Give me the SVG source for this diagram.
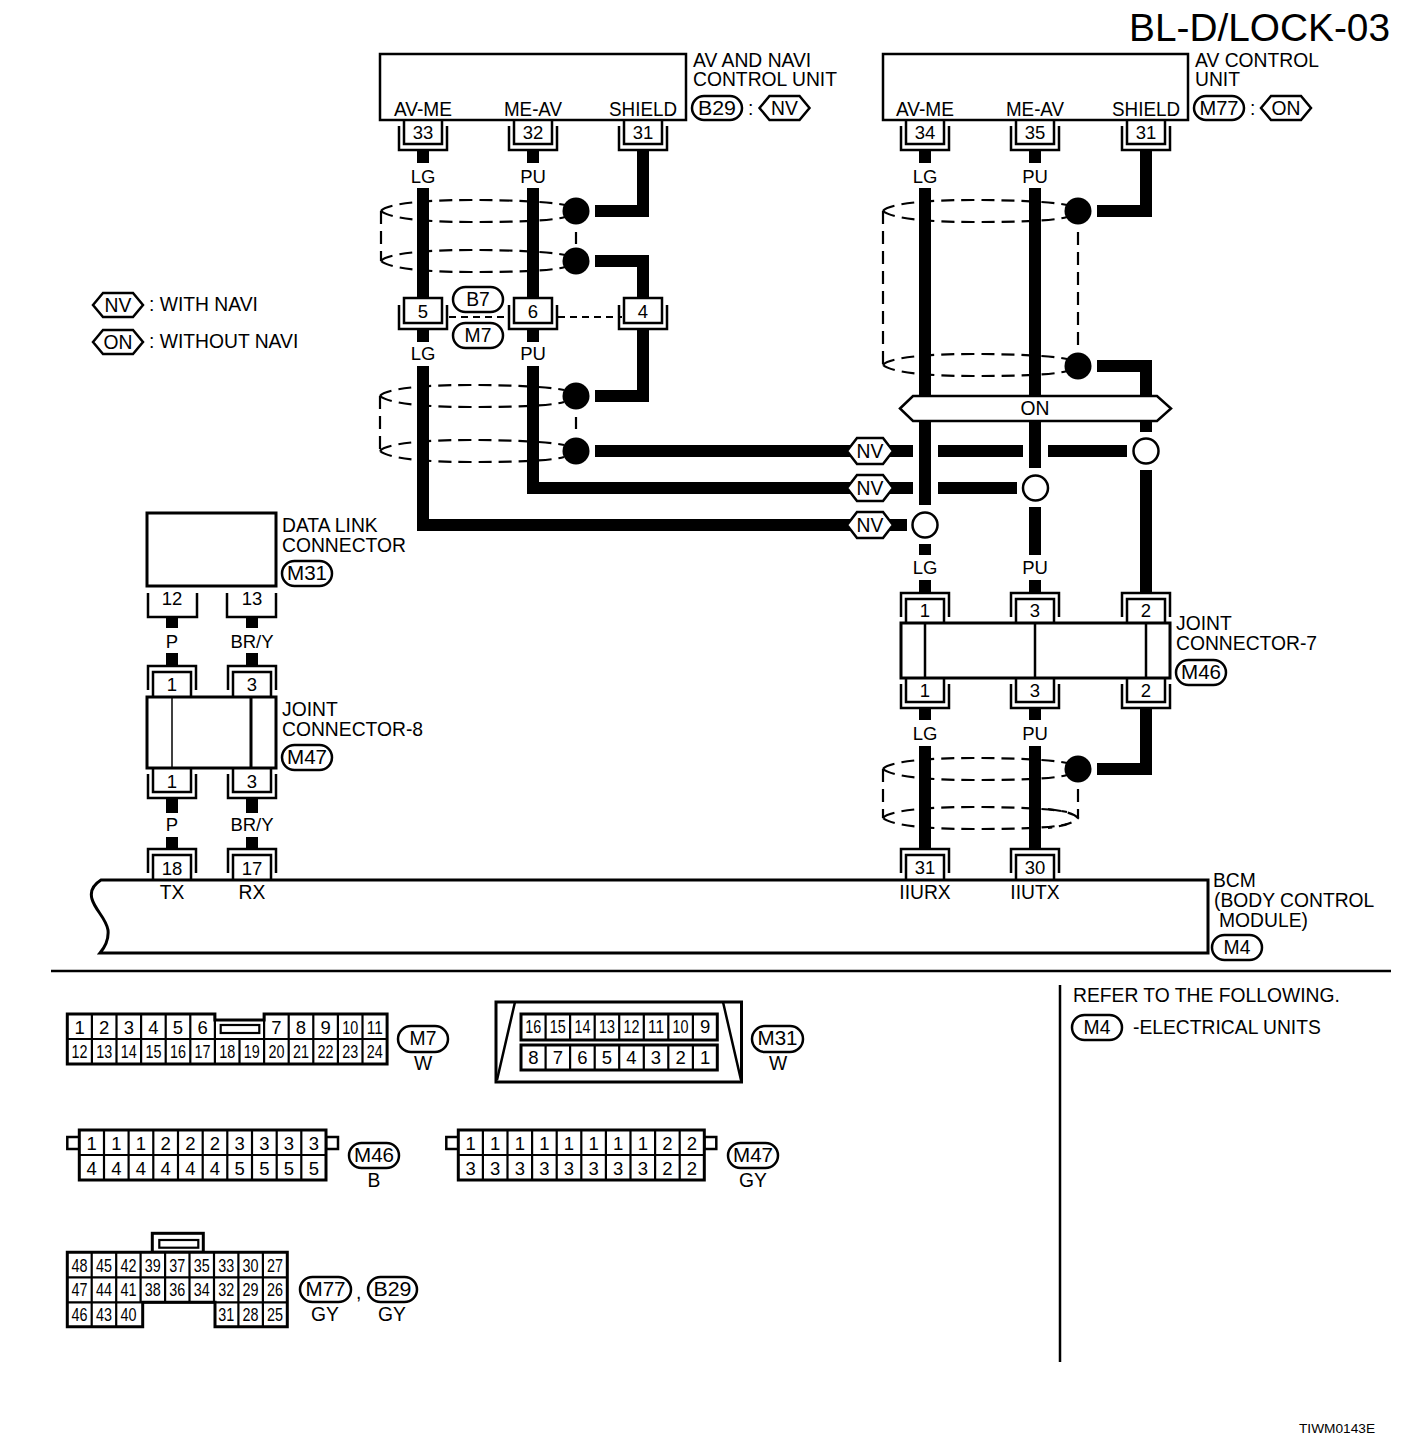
<svg xmlns="http://www.w3.org/2000/svg" width="1408" height="1452" viewBox="0 0 1408 1452">
<style>
text{font-family:"Liberation Sans",Arial,sans-serif;font-size:19.300px;fill:#000}
.c{text-anchor:middle}
.n text{text-anchor:middle;font-size:18.500px}
.b{fill:#fff;stroke:#000;stroke-width:2.5}
.o{fill:none;stroke:#000;stroke-width:2.5}
.w{fill:none;stroke:#000;stroke-width:12;stroke-linejoin:miter}
.d{fill:none;stroke:#000;stroke-width:2.2;stroke-dasharray:13 7}
.e{fill:none;stroke:#000;stroke-width:2.2;stroke-dasharray:7 5}
.g{fill:none;stroke:#000;stroke-width:2.2}
.f{fill:#fff;stroke:#000;stroke-width:3}
.p{fill:#fff;stroke:#000;stroke-width:2.5}
.h{fill:#fff;stroke:#000;stroke-width:2.5}
.t{font-size:13.700px}
.big{font-size:38.800px;text-anchor:end}
</style>
<defs>
<g id="pd"><path class="b" d="M-19,0V24H19V0"/><path class="o" d="M-24,6V30H24V6"/></g>
<g id="pu"><path class="b" d="M-19,0V-24H19V0"/><path class="o" d="M-24,-6V-30H24V-6"/></g>
<g id="pi"><rect class="b" x="-19" y="0" width="38" height="25"/><path class="o" d="M-24,7V31H24V7"/></g>
<path id="oval" class="d" d="M0,0C5,-7 40,-11 90,-11C135,-11 170,-9 184,-6M0,0C8,7 40,11 90,11C135,11 170,10 184,6"/>
<path id="hex" class="h" d="M-25,0L-15,-12H15L25,0L15,12H-15Z"/>
<path id="hexw" class="h" d="M-23,0L-13,-13H13L23,0L13,13H-13Z"/>
<circle id="blk" r="13.500" fill="#000"/>
<circle id="opn" r="12.500" fill="#fff" stroke="#000" stroke-width="2.5"/>
</defs>

<rect width="1408" height="1452" fill="#fff"/>
<text id="title" class="big" x="1390" y="41">BL-D/LOCK-03</text>

<g id="shields">
<use href="#oval" x="381" y="211"/><use href="#oval" x="381" y="261"/>
<path class="d" d="M381,211V261M576,232V244"/>
<use href="#oval" x="380" y="396"/><use href="#oval" x="380" y="451"/>
<path class="d" d="M380,396V451M576,417V429"/>
<use href="#oval" x="883" y="211"/><use href="#oval" x="883" y="365"/>
<path class="d" d="M883,211V365M1078,232V345"/>
<use href="#oval" x="883" y="769"/><use href="#oval" x="883" y="818"/>
<path class="d" d="M883,769V818M1078,789V818"/>
<path class="d" d="M1048,809C1065,811 1075,814 1078,818C1075,822 1065,826 1048,828"/>
<path class="e" d="M449,317H505M558,317H622"/>
</g>

<g id="connectors">
<path class="w" d="M423,150V163M423,188V298M423,329V342M423,366V525H907"/>
<path class="w" d="M533,150V163M533,188V298M533,329V342M533,366V488H913M938,488H1017"/>
<path class="w" d="M643,150V211H595M595,261H643V298M643,329V396H595"/>
<path class="w" d="M595,451H913M938,451H1023M1048,451H1127"/>
<path class="w" d="M925,150V163M925,188V505M925,544V555"/>
<path class="w" d="M1035,150V163M1035,188V468M1035,507V555"/>
<path class="w" d="M1146,150V211H1097M1097,366H1146V432M1146,470V593"/>
<path class="w" d="M925,580V593M1035,580V593"/>
<path class="w" d="M925,708V720M925,746V849M1035,708V720M1035,746V849"/>
<path class="w" d="M1146,708V769H1097"/>
<path class="w" d="M172,617V628M172,653V665M172,799V813M172,837V849"/>
<path class="w" d="M252,617V628M252,653V665M252,799V813M252,837V849"/>
</g>

<g id="splices">
<use href="#blk" x="576" y="211"/><use href="#blk" x="576" y="261"/>
<use href="#blk" x="576" y="396"/><use href="#blk" x="576" y="451"/>
<use href="#blk" x="1078" y="211"/><use href="#blk" x="1078" y="366"/>
<use href="#blk" x="1078" y="769"/>
<use href="#opn" x="925" y="525"/><use href="#opn" x="1035.500" y="488"/><use href="#opn" x="1146" y="451"/>
<use href="#hexw" x="870" y="451"/><use href="#hexw" x="870" y="488"/><use href="#hexw" x="870" y="525"/>
<text class="c" x="870" y="458">NV</text><text class="c" x="870" y="495">NV</text><text class="c" x="870" y="532">NV</text>
</g>

<g id="wire-labels" class="n">
<text x="423" y="183">LG</text><text x="533" y="183">PU</text>
<text x="423" y="360">LG</text><text x="533" y="360">PU</text>
<text x="925" y="183">LG</text><text x="1035" y="183">PU</text>
<text x="925" y="574">LG</text><text x="1035" y="574">PU</text>
<text x="925" y="740">LG</text><text x="1035" y="740">PU</text>
<text x="172" y="648">P</text><text x="252" y="648">BR/Y</text>
<text x="172" y="831">P</text><text x="252" y="831">BR/Y</text>
</g>

<g id="av-navi-unit">
<use href="#pd" x="423" y="120"/><use href="#pd" x="533" y="120"/><use href="#pd" x="643" y="120"/>
<rect class="o" x="380" y="54" width="306" height="66" fill="#fff"/>
<text class="c" x="423" y="116" textLength="58" lengthAdjust="spacingAndGlyphs">AV-ME</text><text class="c" x="533" y="116" textLength="58" lengthAdjust="spacingAndGlyphs">ME-AV</text><text class="c" x="643" y="116" textLength="68" lengthAdjust="spacingAndGlyphs">SHIELD</text>
<g class="n"><text x="423" y="139">33</text><text x="533" y="139">32</text><text x="643" y="139">31</text></g>
<text x="693" y="67">AV AND NAVI</text><text x="693" y="86" textLength="144" lengthAdjust="spacingAndGlyphs">CONTROL UNIT</text>
<rect class="p" x="692" y="96" width="50" height="24" rx="12"/><text class="c" x="717" y="115" textLength="38" lengthAdjust="spacingAndGlyphs">B29</text>
<text x="748" y="115">:</text>
<use href="#hex" x="784.500" y="108"/><text class="c" x="784.500" y="115">NV</text>
</g>

<g id="av-control-unit">
<use href="#pd" x="925" y="120"/><use href="#pd" x="1035" y="120"/><use href="#pd" x="1146" y="120"/>
<rect class="o" x="883" y="54" width="305" height="66" fill="#fff"/>
<text class="c" x="925" y="116" textLength="58" lengthAdjust="spacingAndGlyphs">AV-ME</text><text class="c" x="1035" y="116" textLength="58" lengthAdjust="spacingAndGlyphs">ME-AV</text><text class="c" x="1146" y="116" textLength="68" lengthAdjust="spacingAndGlyphs">SHIELD</text>
<g class="n"><text x="925" y="139">34</text><text x="1035" y="139">35</text><text x="1146" y="139">31</text></g>
<text x="1195" y="67">AV CONTROL</text><text x="1195" y="86">UNIT</text>
<rect class="p" x="1194" y="96" width="50" height="24" rx="12"/><text class="c" x="1219" y="115" textLength="39" lengthAdjust="spacingAndGlyphs">M77</text>
<text x="1250" y="115">:</text>
<use href="#hex" x="1286" y="108"/><text class="c" x="1286" y="115">ON</text>
</g>

<g id="inline-b7-m7">
<use href="#pi" x="423" y="298"/><use href="#pi" x="533" y="298"/><use href="#pi" x="643" y="298"/>
<g class="n"><text x="423" y="318">5</text><text x="533" y="318">6</text><text x="643" y="318">4</text></g>
<rect class="p" x="453" y="287" width="50" height="25" rx="12.500"/><text class="c" x="478" y="306">B7</text>
<rect class="p" x="453" y="323" width="50" height="25" rx="12.500"/><text class="c" x="478" y="342">M7</text>
</g>

<g id="legend">
<use href="#hex" x="118" y="305"/><text class="c" x="118" y="312">NV</text><text x="149" y="311">: WITH NAVI</text>
<use href="#hex" x="118" y="342"/><text class="c" x="118" y="349">ON</text><text x="149" y="348">: WITHOUT NAVI</text>
</g>

<g id="on-bar">
<path class="h" d="M900,408.500L913,396H1157L1171,408.500L1157,421H913Z"/><text class="c" x="1035" y="415">ON</text>
</g>

<g id="joint-connector-7">
<use href="#pu" x="925" y="623"/><use href="#pu" x="1035" y="623"/><use href="#pu" x="1146" y="623"/>
<use href="#pd" x="925" y="678"/><use href="#pd" x="1035" y="678"/><use href="#pd" x="1146" y="678"/>
<rect class="f" x="901" y="623" width="269" height="55"/>
<path class="o" d="M925,623V678M1035,623V678M1146,623V678"/>
<g class="n"><text x="925" y="617">1</text><text x="1035" y="617">3</text><text x="1146" y="617">2</text>
<text x="925" y="697">1</text><text x="1035" y="697">3</text><text x="1146" y="697">2</text></g>
<text x="1176" y="630">JOINT</text><text x="1176" y="650">CONNECTOR-7</text>
<rect class="p" x="1176" y="660" width="50" height="25" rx="12.500"/><text class="c" x="1201" y="679" textLength="40" lengthAdjust="spacingAndGlyphs">M46</text>
</g>

<g id="data-link-connector">
<path class="o" d="M148,593V617H197V593M227,593V617H276V593"/>
<rect class="f" x="147" y="513" width="129" height="73"/>
<g class="n"><text x="172" y="605">12</text><text x="252" y="605">13</text></g>
<text x="282" y="532">DATA LINK</text><text x="282" y="552">CONNECTOR</text>
<rect class="p" x="282" y="561" width="50" height="25" rx="12.500"/><text class="c" x="307" y="580" textLength="40" lengthAdjust="spacingAndGlyphs">M31</text>
</g>

<g id="joint-connector-8">
<use href="#pu" x="172" y="696"/><use href="#pu" x="252" y="696"/>
<use href="#pd" x="172" y="768"/><use href="#pd" x="252" y="768"/>
<rect class="f" x="147" y="697" width="129" height="71"/>
<path d="M172,697V768" stroke="#000" stroke-width="1.500"/><path d="M251,697V768" stroke="#000" stroke-width="3"/>
<g class="n"><text x="172" y="691">1</text><text x="252" y="691">3</text><text x="172" y="788">1</text><text x="252" y="788">3</text></g>
<text x="282" y="716">JOINT</text><text x="282" y="736">CONNECTOR-8</text>
<rect class="p" x="282" y="745" width="50" height="25" rx="12.500"/><text class="c" x="307" y="764" textLength="40" lengthAdjust="spacingAndGlyphs">M47</text>
</g>

<g id="bcm">
<use href="#pu" x="172" y="879"/><use href="#pu" x="252" y="879"/><use href="#pu" x="925" y="879"/><use href="#pu" x="1035" y="879"/>
<path class="f" d="M1208,880H101C93,885 90,892 92,899C95,910 106,918 108,930C109,940 105,947 100,953H1208Z"/>
<g class="n"><text x="172" y="875">18</text><text x="252" y="875">17</text><text x="925" y="874">31</text><text x="1035" y="874">30</text></g>
<text class="c" x="172" y="899">TX</text><text class="c" x="252" y="899">RX</text>
<text class="c" x="925" y="899">IIURX</text><text class="c" x="1035" y="899">IIUTX</text>
<text x="1213" y="887">BCM</text><text x="1214" y="907">(BODY CONTROL</text><text x="1219" y="927">MODULE)</text>
<rect class="p" x="1212" y="935" width="50" height="25" rx="12.500"/><text class="c" x="1237" y="954">M4</text>
</g>

<g id="dividers">
<path d="M51,971H1391" stroke="#000" stroke-width="2.500"/>
<path d="M1060,985V1362" stroke="#000" stroke-width="2.500"/>
</g>

<g id="refer">
<text x="1073" y="1002">REFER TO THE FOLLOWING.</text>
<rect class="p" x="1072" y="1015" width="50" height="25" rx="12.500"/><text class="c" x="1097" y="1034">M4</text>
<text x="1133" y="1034">-ELECTRICAL UNITS</text>
</g>

<g id="conn-m7">
<path class="f" d="M67.300,1014H214.900V1020H264.100V1014H387.100V1064H67.300Z"/>
<path class="g" d="M67.300,1039H387.100M91.900,1014V1064M116.500,1014V1064M141.100,1014V1064M165.700,1014V1064M190.300,1014V1064M214.900,1014V1064M239.500,1039V1064M264.100,1014V1064M288.700,1014V1064M313.300,1014V1064M337.900,1014V1064M362.500,1014V1064"/>
<rect class="g" x="220.700" y="1025" width="38.600" height="8"/>
<g class="n"><text x="79.600" y="1034">1</text><text x="104.200" y="1034">2</text><text x="128.800" y="1034">3</text><text x="153.400" y="1034">4</text><text x="178" y="1034">5</text><text x="202.600" y="1034">6</text><text x="276.400" y="1034">7</text><text x="301" y="1034">8</text><text x="325.600" y="1034">9</text><text x="350.200" y="1034" textLength="16" lengthAdjust="spacingAndGlyphs">10</text><text x="374.800" y="1034" textLength="16" lengthAdjust="spacingAndGlyphs">11</text>
<text x="79.600" y="1058" textLength="16" lengthAdjust="spacingAndGlyphs">12</text><text x="104.200" y="1058" textLength="16" lengthAdjust="spacingAndGlyphs">13</text><text x="128.800" y="1058" textLength="16" lengthAdjust="spacingAndGlyphs">14</text><text x="153.400" y="1058" textLength="16" lengthAdjust="spacingAndGlyphs">15</text><text x="178" y="1058" textLength="16" lengthAdjust="spacingAndGlyphs">16</text><text x="202.600" y="1058" textLength="16" lengthAdjust="spacingAndGlyphs">17</text><text x="227.200" y="1058" textLength="16" lengthAdjust="spacingAndGlyphs">18</text><text x="251.800" y="1058" textLength="16" lengthAdjust="spacingAndGlyphs">19</text><text x="276.400" y="1058" textLength="16" lengthAdjust="spacingAndGlyphs">20</text><text x="301" y="1058" textLength="16" lengthAdjust="spacingAndGlyphs">21</text><text x="325.600" y="1058" textLength="16" lengthAdjust="spacingAndGlyphs">22</text><text x="350.200" y="1058" textLength="16" lengthAdjust="spacingAndGlyphs">23</text><text x="374.800" y="1058" textLength="16" lengthAdjust="spacingAndGlyphs">24</text></g>
<rect class="p" x="398" y="1026" width="50" height="26" rx="13"/><text class="c" x="423" y="1045">M7</text>
<text class="c" x="423" y="1070">W</text>
</g>

<g id="conn-m31">
<rect class="f" x="496" y="1002" width="245.500" height="80"/>
<path class="o" d="M515,1002L497,1080M723,1002L741,1080"/>
<rect class="f" x="521" y="1014" width="196.300" height="26"/>
<rect class="f" x="521" y="1045" width="196.300" height="25"/>
<path class="g" d="M545.600,1014V1040M570.100,1014V1040M594.700,1014V1040M619.200,1014V1040M643.800,1014V1040M668.300,1014V1040M692.900,1014V1040M545.600,1045V1070M570.100,1045V1070M594.700,1045V1070M619.200,1045V1070M643.800,1045V1070M668.300,1045V1070M692.900,1045V1070"/>
<g class="n"><text x="533.300" y="1033" textLength="16" lengthAdjust="spacingAndGlyphs">16</text><text x="557.800" y="1033" textLength="16" lengthAdjust="spacingAndGlyphs">15</text><text x="582.400" y="1033" textLength="16" lengthAdjust="spacingAndGlyphs">14</text><text x="606.900" y="1033" textLength="16" lengthAdjust="spacingAndGlyphs">13</text><text x="631.500" y="1033" textLength="16" lengthAdjust="spacingAndGlyphs">12</text><text x="656" y="1033" textLength="16" lengthAdjust="spacingAndGlyphs">11</text><text x="680.600" y="1033" textLength="16" lengthAdjust="spacingAndGlyphs">10</text><text x="705.100" y="1033">9</text>
<text x="533.300" y="1064">8</text><text x="557.800" y="1064">7</text><text x="582.400" y="1064">6</text><text x="606.900" y="1064">5</text><text x="631.500" y="1064">4</text><text x="656" y="1064">3</text><text x="680.600" y="1064">2</text><text x="705.100" y="1064">1</text></g>
<rect class="p" x="752" y="1026" width="51" height="26" rx="13"/><text class="c" x="777.500" y="1045" textLength="40" lengthAdjust="spacingAndGlyphs">M31</text>
<text class="c" x="778" y="1070">W</text>
</g>

<g id="conn-m46">
<rect class="b" x="67.300" y="1137" width="12" height="12"/><rect class="b" x="326" y="1137" width="12" height="12"/>
<rect class="f" x="79.300" y="1130" width="246.700" height="50"/>
<path class="g" d="M79.300,1155H326M104,1130V1180M128.600,1130V1180M153.300,1130V1180M178,1130V1180M202.700,1130V1180M227.300,1130V1180M252,1130V1180M276.700,1130V1180M301.300,1130V1180"/>
<g class="n"><text x="91.600" y="1150">1</text><text x="116.300" y="1150">1</text><text x="141" y="1150">1</text><text x="165.700" y="1150">2</text><text x="190.400" y="1150">2</text><text x="215" y="1150">2</text><text x="239.700" y="1150">3</text><text x="264.400" y="1150">3</text><text x="289" y="1150">3</text><text x="313.800" y="1150">3</text>
<text x="91.600" y="1175">4</text><text x="116.300" y="1175">4</text><text x="141" y="1175">4</text><text x="165.700" y="1175">4</text><text x="190.400" y="1175">4</text><text x="215" y="1175">4</text><text x="239.700" y="1175">5</text><text x="264.400" y="1175">5</text><text x="289" y="1175">5</text><text x="313.800" y="1175">5</text></g>
<rect class="p" x="349" y="1143" width="50" height="25" rx="12.500"/><text class="c" x="374" y="1162" textLength="40" lengthAdjust="spacingAndGlyphs">M46</text>
<text class="c" x="374" y="1187">B</text>
</g>

<g id="conn-m47">
<rect class="b" x="446.300" y="1137" width="12" height="12"/><rect class="b" x="704.300" y="1137" width="12" height="12"/>
<rect class="f" x="458.300" y="1130" width="246" height="50"/>
<path class="g" d="M458.300,1155H704.300M482.900,1130V1180M507.500,1130V1180M532.100,1130V1180M556.700,1130V1180M581.300,1130V1180M605.900,1130V1180M630.500,1130V1180M655.100,1130V1180M679.700,1130V1180"/>
<g class="n"><text x="470.600" y="1150">1</text><text x="495.200" y="1150">1</text><text x="519.800" y="1150">1</text><text x="544.400" y="1150">1</text><text x="569" y="1150">1</text><text x="593.600" y="1150">1</text><text x="618.200" y="1150">1</text><text x="642.800" y="1150">1</text><text x="667.400" y="1150">2</text><text x="692" y="1150">2</text>
<text x="470.600" y="1175">3</text><text x="495.200" y="1175">3</text><text x="519.800" y="1175">3</text><text x="544.400" y="1175">3</text><text x="569" y="1175">3</text><text x="593.600" y="1175">3</text><text x="618.200" y="1175">3</text><text x="642.800" y="1175">3</text><text x="667.400" y="1175">2</text><text x="692" y="1175">2</text></g>
<rect class="p" x="728" y="1143" width="50" height="25" rx="12.500"/><text class="c" x="753" y="1162" textLength="40" lengthAdjust="spacingAndGlyphs">M47</text>
<text class="c" x="753" y="1187">GY</text>
</g>

<g id="conn-m77-b29">
<rect class="f" x="152.300" y="1233.300" width="51" height="19"/>
<rect class="g" x="159.300" y="1240" width="39" height="7.700"/>
<path class="f" d="M67.300,1252.300H287.300V1326.700H215V1302.300H142.700V1326.700H67.300Z"/>
<path class="g" d="M67.300,1277.300H287.300M67.300,1302.300H287.300M91.700,1252.300V1326.700M116.200,1252.300V1326.700M140.600,1252.300V1302.300M165.100,1252.300V1302.300M189.500,1252.300V1302.300M214,1252.300V1302.300M238.400,1252.300V1326.700M262.900,1252.300V1326.700"/>
<g class="n"><text x="79.500" y="1272" textLength="16" lengthAdjust="spacingAndGlyphs">48</text><text x="104" y="1272" textLength="16" lengthAdjust="spacingAndGlyphs">45</text><text x="128.400" y="1272" textLength="16" lengthAdjust="spacingAndGlyphs">42</text><text x="152.800" y="1272" textLength="16" lengthAdjust="spacingAndGlyphs">39</text><text x="177.300" y="1272" textLength="16" lengthAdjust="spacingAndGlyphs">37</text><text x="201.700" y="1272" textLength="16" lengthAdjust="spacingAndGlyphs">35</text><text x="226.200" y="1272" textLength="16" lengthAdjust="spacingAndGlyphs">33</text><text x="250.600" y="1272" textLength="16" lengthAdjust="spacingAndGlyphs">30</text><text x="275" y="1272" textLength="16" lengthAdjust="spacingAndGlyphs">27</text>
<text x="79.500" y="1296" textLength="16" lengthAdjust="spacingAndGlyphs">47</text><text x="104" y="1296" textLength="16" lengthAdjust="spacingAndGlyphs">44</text><text x="128.400" y="1296" textLength="16" lengthAdjust="spacingAndGlyphs">41</text><text x="152.800" y="1296" textLength="16" lengthAdjust="spacingAndGlyphs">38</text><text x="177.300" y="1296" textLength="16" lengthAdjust="spacingAndGlyphs">36</text><text x="201.700" y="1296" textLength="16" lengthAdjust="spacingAndGlyphs">34</text><text x="226.200" y="1296" textLength="16" lengthAdjust="spacingAndGlyphs">32</text><text x="250.600" y="1296" textLength="16" lengthAdjust="spacingAndGlyphs">29</text><text x="275" y="1296" textLength="16" lengthAdjust="spacingAndGlyphs">26</text>
<text x="79.500" y="1321" textLength="16" lengthAdjust="spacingAndGlyphs">46</text><text x="104" y="1321" textLength="16" lengthAdjust="spacingAndGlyphs">43</text><text x="128.400" y="1321" textLength="16" lengthAdjust="spacingAndGlyphs">40</text><text x="226.200" y="1321" textLength="16" lengthAdjust="spacingAndGlyphs">31</text><text x="250.600" y="1321" textLength="16" lengthAdjust="spacingAndGlyphs">28</text><text x="275" y="1321" textLength="16" lengthAdjust="spacingAndGlyphs">25</text></g>
<rect class="p" x="300" y="1277" width="51" height="25" rx="12.500"/><text class="c" x="325.500" y="1296" textLength="40" lengthAdjust="spacingAndGlyphs">M77</text>
<text x="356" y="1299">,</text>
<rect class="p" x="368" y="1277" width="49" height="25" rx="12.500"/><text class="c" x="392.500" y="1296" textLength="38" lengthAdjust="spacingAndGlyphs">B29</text>
<text class="c" x="325" y="1321">GY</text><text class="c" x="392" y="1321">GY</text>
</g>

<text id="code" class="t" x="1299" y="1433">TIWM0143E</text>
</svg>
